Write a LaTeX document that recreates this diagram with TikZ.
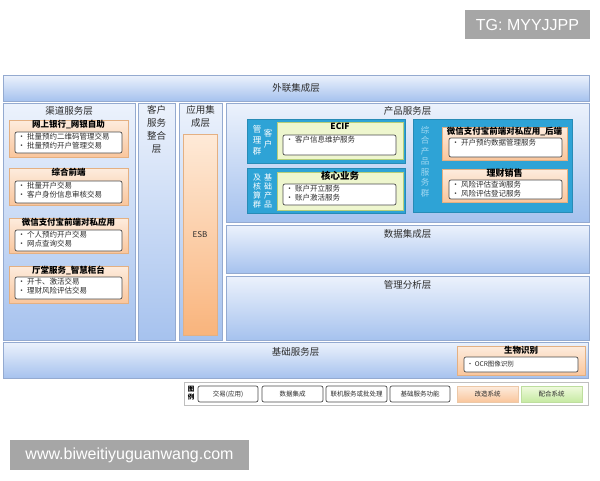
\documentclass[tikz,border=0pt]{standalone}
\usepackage{fontspec}
\setmainfont{Noto Sans CJK SC}
\newfontfamily\wmfont{Liberation Sans}
\usepackage{tikz}
\definecolor{laytop}{RGB}{236,242,252}
\definecolor{laybot}{RGB}{166,194,238}
\definecolor{laybd}{RGB}{148,170,208}
\definecolor{ortop}{RGB}{253,236,222}
\definecolor{orbot}{RGB}{250,198,156}
\definecolor{orbd}{RGB}{228,176,130}
\definecolor{esbtop}{RGB}{254,234,216}
\definecolor{esbbot}{RGB}{249,180,124}
\definecolor{grp}{RGB}{46,163,214}
\definecolor{grplt}{RGB}{160,216,242}
\definecolor{grfill}{RGB}{238,246,206}
\definecolor{grbd}{RGB}{182,206,122}
\definecolor{lgtop}{RGB}{240,250,222}
\definecolor{lgbot}{RGB}{198,234,162}
\definecolor{lgbd}{RGB}{190,222,158}
\definecolor{wm}{RGB}{166,166,166}
\definecolor{txt}{RGB}{45,45,45}
\usetikzlibrary{positioning}
\usetikzlibrary{shadings}

\begin{document}
\begin{tikzpicture}[
  every node/.style={inner sep=0pt, text=txt},
  layer/.style={draw=laybd, line width=0.625pt, top color=laytop, bottom color=laybot},
  orbox/.style={draw=orbd, line width=0.5pt, top color=ortop, bottom color=orbot},
  grpbox/.style={fill=grp, draw=grp!85!black, line width=0.5pt},
  grbox/.style={fill=grfill, draw=grbd, line width=0.625pt},
  itembox/.style={draw=black!70, fill=white, rounded corners=2pt, line width=0.7pt},
  ttl/.style={font=\fontsize{9.5}{12.7}\selectfont, align=center},
  btl/.style={font=\fontsize{8.5}{10}\selectfont\bfseries, text=black, text height=6.6pt, text depth=0.8pt},
  itm/.style={font=\fontsize{7.5}{9}\selectfont, align=left},
  vtxt/.style={font=\fontsize{8.5}{11}\selectfont, align=center, text=white},
  lgd/.style={itembox, minimum width=60pt, minimum height=16pt, font=\fontsize{6.5}{8}\selectfont},
  lgdor/.style={lgd, rounded corners=0pt, draw=orbd!70, top color=ortop, bottom color=orbot},
  lgdgr/.style={lgd, rounded corners=0pt, draw=lgbd, top color=lgtop, bottom color=lgbot},
  wmbox/.style={fill=wm, text=white, font=\wmfont\fontsize{16}{19}\selectfont}
]
\useasboundingbox (0pt, 0pt) rectangle (600pt, -480pt);

% top band
\node (wl) [layer, minimum width=586pt, minimum height=26pt, ttl] at (296pt, -88pt) {外联集成层};

% channel layer
\node (qd) [layer, minimum width=132pt, minimum height=237pt] at (69pt, -221.5pt) {};
\node (qd-t) [ttl, below=4pt of qd.north] {渠道服务层};

\node (ws) [orbox, minimum width=119pt, minimum height=37pt] at (68.5pt, -138.5pt) {};
\node (ws-t) [btl, below=1pt of ws.north] {网上银行\_网银自助};
\node (ws-b) [itembox, minimum width=107pt, minimum height=21pt] at (68.5pt, -142.5pt) {};
\node (ws-i) [itm, below right=1.5pt and 3pt of ws-b.north west] {\textbullet\ 批量预约二维码管理交易\\\textbullet\ 批量预约开户管理交易};

\node (zh) [orbox, minimum width=119pt, minimum height=37pt] at (68.5pt, -186.5pt) {};
\node (zh-t) [btl, below=1pt of zh.north] {综合前端};
\node (zh-b) [itembox, minimum width=107pt, minimum height=22pt] at (68.5pt, -192pt) {};
\node (zh-i) [itm, below right=1.5pt and 3pt of zh-b.north west] {\textbullet\ 批量开户交易\\\textbullet\ 客户身份信息审核交易};

\node (wx) [orbox, minimum width=119pt, minimum height=35pt] at (68.5pt, -235.5pt) {};
\node (wx-t) [btl, below=1pt of wx.north] {微信支付宝前端对私应用};
\node (wx-b) [itembox, minimum width=107pt, minimum height=21pt] at (68.5pt, -240.5pt) {};
\node (wx-i) [itm, below right=1.5pt and 3pt of wx-b.north west] {\textbullet\ 个人预约开户交易\\\textbullet\ 网点查询交易};

\node (tt) [orbox, minimum width=119pt, minimum height=37pt] at (68.5pt, -284.5pt) {};
\node (tt-t) [btl, below=1pt of tt.north] {厅堂服务\_智慧柜台};
\node (tt-b) [itembox, minimum width=107pt, minimum height=22pt] at (68.5pt, -288pt) {};
\node (tt-i) [itm, below right=1.5pt and 3pt of tt-b.north west] {\textbullet\ 开卡、激活交易\\\textbullet\ 理财风险评估交易};

% customer service / application integration
\node (kh) [layer, minimum width=37pt, minimum height=237pt] at (156.5pt, -221.5pt) {};
\node (kh-t) [ttl, below=3pt of kh.north] {客户\\服务\\整合\\层};
\node (yy) [layer, minimum width=43pt, minimum height=237pt] at (200.5pt, -221.5pt) {};
\node (yy-t) [ttl, below=3pt of yy.north] {应用集\\成层};
\node (esb) [orbox, top color=esbtop, bottom color=esbbot, minimum width=34pt, minimum height=201pt, font=\fontsize{8}{10}\selectfont] at (200pt, -234.5pt) {ESB};

% product layer
\node (cp) [layer, minimum width=363pt, minimum height=119pt] at (407.5pt, -162.5pt) {};
\node (cp-t) [ttl, below=3.5pt of cp.north] {产品服务层};

\node (g1) [grpbox, minimum width=158pt, minimum height=44pt] at (326pt, -141pt) {};
\node (g1-r) [vtxt] at (268pt, -139pt) {客\\户};
\node (g1-l) [vtxt] at (257pt, -140pt) {管\\理\\群};
\node (ecif) [grbox, minimum width=126pt, minimum height=37pt] at (340pt, -140.5pt) {};
\node (ecif-t) [btl, below=1.5pt of ecif.north] {ECIF};
\node (ecif-b) [itembox, minimum width=113pt, minimum height=20pt] at (339.5pt, -145pt) {};
\node (ecif-i) [itm, below right=1.5pt and 3pt of ecif-b.north west] {\textbullet\ 客户信息维护服务};

\node (g2) [grpbox, minimum width=158pt, minimum height=45pt] at (326pt, -190.5pt) {};
\node (g2-r) [vtxt, font=\fontsize{8}{9.2}\selectfont] at (268pt, -191pt) {基\\础\\产\\品};
\node (g2-l) [vtxt, font=\fontsize{8}{9.2}\selectfont] at (257pt, -191pt) {及\\核\\算\\群};
\node (hx) [grbox, minimum width=126pt, minimum height=38pt] at (340pt, -191pt) {};
\node (hx-t) [btl, font=\fontsize{9.5}{11}\selectfont\bfseries, text height=7.2pt, below=0.5pt of hx.north] {核心业务};
\node (hx-b) [itembox, minimum width=113pt, minimum height=21pt] at (339.5pt, -194.5pt) {};
\node (hx-i) [itm, below right=1.5pt and 3pt of hx-b.north west] {\textbullet\ 账户开立服务\\\textbullet\ 账户激活服务};

\node (g3) [grpbox, minimum width=159pt, minimum height=93pt] at (492.5pt, -165.5pt) {};
\node (g3-t) [vtxt, text=grplt, font=\fontsize{8.5}{10.5}\selectfont] at (425pt, -161.5pt) {综\\合\\产\\品\\服\\务\\群};
\node (hd) [orbox, minimum width=125pt, minimum height=33pt] at (504.5pt, -143.5pt) {};
\node (hd-t) [btl, below=1pt of hd.north] {微信支付宝前端对私应用\_后端};
\node (hd-b) [itembox, minimum width=113pt, minimum height=19pt] at (505.5pt, -147.5pt) {};
\node (hd-i) [itm, below right=1.5pt and 3pt of hd-b.north west] {\textbullet\ 开户预约数据管理服务};
\node (lc) [orbox, minimum width=125pt, minimum height=33pt] at (504.5pt, -185.5pt) {};
\node (lc-t) [btl, font=\fontsize{9}{11}\selectfont\bfseries, below=1pt of lc.north] {理财销售};
\node (lc-b) [itembox, minimum width=113pt, minimum height=19pt] at (505.5pt, -189.5pt) {};
\node (lc-i) [itm, below right=1pt and 3pt of lc-b.north west] {\textbullet\ 风险评估查询服务\\\textbullet\ 风险评估登记服务};

% data / analysis
\node (sj) [layer, minimum width=363pt, minimum height=48pt] at (407.5pt, -249pt) {};
\node (sj-t) [ttl, below=4.5pt of sj.north] {数据集成层};
\node (gl) [layer, minimum width=363pt, minimum height=64pt] at (407.5pt, -308pt) {};
\node (gl-t) [ttl, below=4.5pt of gl.north] {管理分析层};

% base layer
\node (jc) [layer, minimum width=585pt, minimum height=36pt] at (295.5pt, -360pt) {};
\node (jc-t) [ttl, below=6pt of jc.north] {基础服务层};
\node (sw) [orbox, minimum width=128pt, minimum height=29pt] at (521pt, -360.5pt) {};
\node (sw-t) [btl, below=1pt of sw.north] {生物识别};
\node (sw-b) [itembox, minimum width=114pt, minimum height=15pt] at (521pt, -364.5pt) {};
\node (sw-i) [itm, font=\fontsize{6.5}{8}\selectfont, right=3pt of sw-b.west] {\textbullet\ OCR图像识别};

% legend
\node (lg) [draw=black!25, fill=white, line width=0.625pt, minimum width=404pt, minimum height=23pt] at (386pt, -393.5pt) {};
\node (lg-t) [align=center, text=black, font=\fontsize{6.5}{8}\selectfont\bfseries] at (191pt, -393.5pt) {图\\例};
\node (l1) [lgd] at (228pt, -394pt) {交易(应用)};
\node (l2) [lgd, minimum width=61pt] at (292.5pt, -394pt) {数据集成};
\node (l3) [lgd, minimum width=61pt] at (356.5pt, -394pt) {联机服务或批处理};
\node (l4) [lgd] at (420pt, -394pt) {基础服务功能};
\node (l5) [lgdor, minimum width=61pt] at (487.5pt, -394pt) {改造系统};
\node (l6) [lgdgr, minimum width=61pt] at (551.5pt, -394pt) {配合系统};

% watermarks
\node (tg) [wmbox, minimum width=125pt, minimum height=29pt] at (527.5pt, -24.5pt) {TG: MYYJJPP};
\node (www) [wmbox, minimum width=239pt, minimum height=30pt] at (129.5pt, -455pt) {www.biweitiyuguanwang.com};
\end{tikzpicture}
\end{document}
